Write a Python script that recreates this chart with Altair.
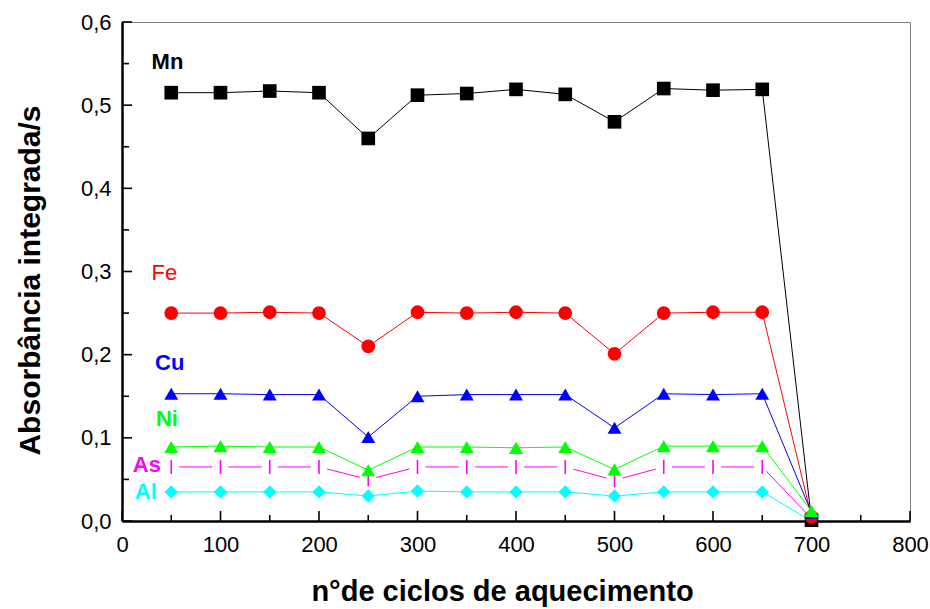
import altair as alt
import pandas as pd

# Heating-cycle study: integrated absorbance per element
ciclos = [50, 100, 150, 200, 250, 300, 350, 400, 450, 500, 550, 600, 650, 700]

mn = [0.515, 0.515, 0.517, 0.515, 0.460, 0.512, 0.514, 0.519, 0.513, 0.480, 0.520, 0.518, 0.519, 0.001]
fe = [0.250, 0.250, 0.251, 0.250, 0.210, 0.251, 0.250, 0.251, 0.250, 0.201, 0.250, 0.251, 0.251, 0.005]
cu = [0.153, 0.153, 0.152, 0.152, 0.101, 0.150, 0.152, 0.152, 0.152, 0.112, 0.153, 0.152, 0.153, 0.010]
ni = [0.089, 0.090, 0.089, 0.089, 0.061, 0.089, 0.089, 0.088, 0.089, 0.062, 0.090, 0.090, 0.090, 0.012]
as_ = [0.065, 0.065, 0.065, 0.065, 0.050, 0.065, 0.065, 0.065, 0.065, 0.049, 0.065, 0.065, 0.065, 0.003]
al = [0.035, 0.035, 0.035, 0.035, 0.030, 0.036, 0.035, 0.035, 0.035, 0.030, 0.035, 0.035, 0.035, 0.000]

# drawing order (last drawn is on top)
elementos = ["Al", "As", "Mn", "Fe", "Cu", "Ni"]
series = {"Al": al, "As": as_, "Mn": mn, "Fe": fe, "Cu": cu, "Ni": ni}
cores = ["#00FFFF", "#FF00FF", "#000000", "#FF0000", "#0000FF", "#00FF00"]
formas = ["diamond", "M0,-1L0,1", "square", "circle", "triangle-up", "triangle-up"]
tamanhos = [180, 196, 144, 169, 200, 200]

# element labels written next to each curve
rotulos = ["Mn", "Fe", "Cu", "Ni", "As", "Al"]
rotulo_x = [30, 30, 33.5, 34.5, 11, 13]
rotulo_y = [0.552, 0.2985, 0.190, 0.1227, 0.0673, 0.035]
rotulo_negrito = [True, False, True, True, True, True]

x_major = list(range(0, 801, 100))
x_minor = list(range(50, 801, 100))
y_major = [0.0, 0.1, 0.2, 0.3, 0.4, 0.5, 0.6]
y_minor = [0.05, 0.15, 0.25, 0.35, 0.45, 0.55]

W, H = 788, 499
FONT = "Liberation Sans"

rows = []
for el in elementos:
    for c, v in zip(ciclos, series[el]):
        rows.append({"elemento": el, "ciclos": c, "absorbancia": v})
df = pd.DataFrame(rows)
df["ordem"] = df["elemento"].map({e: i for i, e in enumerate(elementos)})

lab = pd.DataFrame({"elemento": rotulos, "ciclos": rotulo_x,
                    "absorbancia": rotulo_y, "negrito": rotulo_negrito})

xs = alt.Scale(domain=[0, 800], nice=False, zero=False)
ys = alt.Scale(domain=[0, 0.6], nice=False, zero=False)
cs = alt.Scale(domain=elementos, range=cores)
ss = alt.Scale(domain=elementos, range=formas)
zs = alt.Scale(domain=elementos, range=tamanhos)

axis_style = dict(
    ticks=False, grid=False, domainColor="black", domainWidth=2.5,
    labelFont=FONT, labelFontSize=22, labelColor="black",
    titleFont=FONT, titleFontWeight="bold", titleColor="black",
)

x_axis = alt.Axis(values=x_major, labelPadding=13, labelFlush=False,
                  title="n°de ciclos de aquecimento", titleFontSize=29,
                  titleX=380, titleY=79,
                  titleAlign="center", titleBaseline="alphabetic", **axis_style)
y_axis = alt.Axis(values=y_major, labelPadding=11, labelFlush=False,
                  labelExpr="replace(format(datum.value, '.1f'), '.', ',')",
                  title="Absorbância integrada/s", titleFontSize=30,
                  titleX=-83, titleY=258,
                  titleAngle=-90, titleAlign="center", titleBaseline="alphabetic",
                  **axis_style)

X = alt.X("ciclos:Q", scale=xs, axis=x_axis)
Y = alt.Y("absorbancia:Q", scale=ys, axis=y_axis)
COLOR = alt.Color("elemento:N", scale=cs, legend=None)

linhas = alt.Chart(df).mark_line(strokeWidth=1).encode(
    x=X, y=Y, color=COLOR, detail="elemento:N", order="ciclos:Q")

# white gaps around the As tick markers, where the line breaks
gaps = alt.Chart(df).transform_filter(
    "datum.elemento == 'As' && datum.ciclos < 700"
).mark_point(shape="M-1,-0.5L1,-0.5L1,0.5L-1,0.5Z", filled=True,
             fill="white", opacity=1, size=256, strokeWidth=0).encode(x=X, y=Y)

marca_as = alt.Chart(df).transform_filter("datum.elemento == 'As'").mark_point(
    shape="M0,-1L0,1", filled=False, opacity=1, strokeWidth=1.6, size=196
).encode(x=X, y=Y, color=COLOR)

pontos = alt.Chart(df).transform_filter("datum.elemento != 'As'").mark_point(
    filled=True, opacity=1, strokeWidth=0
).encode(x=X, y=Y, color=COLOR,
         shape=alt.Shape("elemento:N", scale=ss, legend=None),
         size=alt.Size("elemento:N", scale=zs, legend=None),
         order="ordem:Q")

texto_b = alt.Chart(lab).transform_filter("datum.negrito").mark_text(
    align="left", baseline="middle", font=FONT, fontSize=22, fontWeight="bold"
).encode(x=X, y=Y, text="elemento:N", color=COLOR)
texto_n = alt.Chart(lab).transform_filter("!datum.negrito").mark_text(
    align="left", baseline="middle", font=FONT, fontSize=22, fontWeight="normal"
).encode(x=X, y=Y, text="elemento:N", color=COLOR)

# inward tick marks
def xticks(vals, length):
    d = pd.DataFrame({"ciclos": vals})
    return alt.Chart(d).mark_rule(color="black", strokeWidth=1.6).encode(
        x=X, y=alt.value(H), y2=alt.value(H - length))

def yticks(vals, length):
    d = pd.DataFrame({"absorbancia": vals})
    return alt.Chart(d).mark_rule(color="black", strokeWidth=1.6).encode(
        y=Y, x=alt.value(0), x2=alt.value(length))

chart = alt.layer(
    xticks(x_major, 10), xticks(x_minor, 6), yticks(y_major, 10), yticks(y_minor, 7),
    linhas, gaps, marca_as, pontos, texto_b, texto_n
).properties(
    width=W, height=H,
    background="white",
    autosize=alt.AutoSizeParams(type="none"),
    padding={"left": 122, "top": 22, "right": 20, "bottom": 88},
).configure_view(
    stroke="#808080", strokeWidth=1
)

chart.save("out.html", embed_options={"renderer": "svg", "actions": False})
